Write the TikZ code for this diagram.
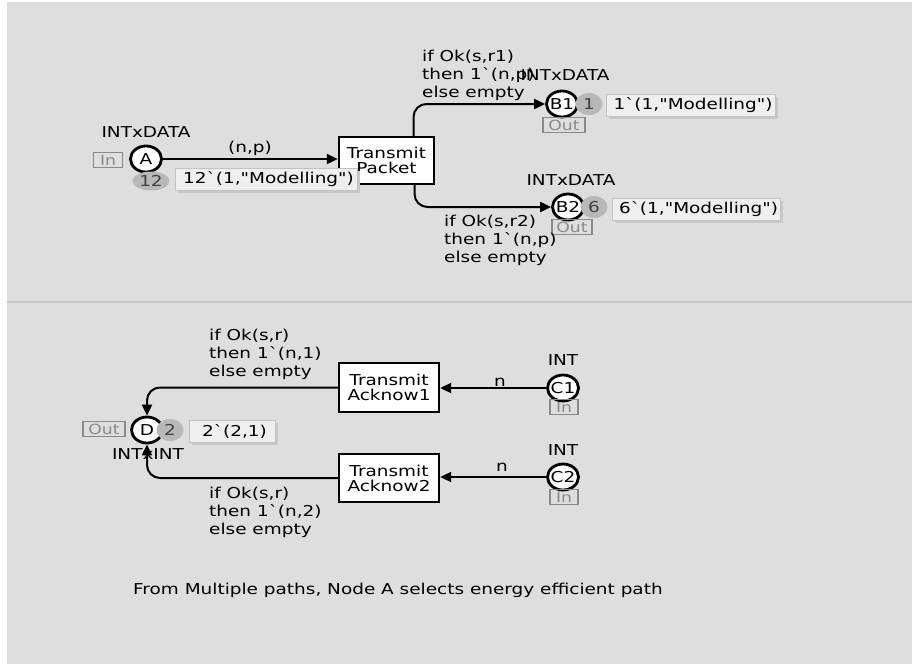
\documentclass[tikz,border=0pt]{standalone}
\usepackage{fontspec}
\newfontfamily\dv[FakeStretch=1.23]{DejaVu Sans}
\usetikzlibrary{arrows.meta,shapes.geometric}
\definecolor{bg}{HTML}{DEDEDE}
\definecolor{tokgray}{HTML}{B8B8B8}
\definecolor{markfill}{HTML}{EFEFEF}
\definecolor{markborder}{HTML}{C2C2C2}
\definecolor{markshadow}{HTML}{C8C8C8}
\definecolor{portgray}{HTML}{8A8A8A}
\definecolor{divider}{HTML}{C8C8C8}
\begin{document}
\begin{tikzpicture}[x=1pt,y=-1pt,
  font=\dv\fontsize{15}{18}\selectfont,
  place/.style={ellipse, draw=black, line width=2.8pt, fill=white, minimum width=31pt, minimum height=26pt, inner sep=-4pt},
  trans/.style={rectangle, draw=black, line width=2.4pt, fill=white, align=center, inner sep=0pt},
  tok/.style={ellipse, fill=tokgray, text=black!75, minimum width=27pt, minimum height=22pt, inner sep=-4pt},
  marking/.style={draw=markborder, line width=1pt, fill=markfill, anchor=west, inner sep=0pt, minimum height=22pt,
    append after command={}},
  port/.style={draw=portgray, line width=1.5pt, text=portgray, inner sep=1pt, minimum height=15pt, font=\dv\fontsize{14}{15}\selectfont},
  arc/.style={line width=2pt, -{Triangle[length=11pt,width=10pt]}},
  lbl/.style={align=left, anchor=north west, inner sep=0pt},
  typ/.style={anchor=base, inner sep=0pt}]
\fill[white] (0,0) rectangle (912,665);
\fill[bg] (7,2) rectangle (912,664);
\useasboundingbox (0,0) rectangle (912,665);
\draw[divider, line width=2pt] (7,302) -- (912,302);

% ---------- upper part ----------
\node[place] (pA) at (146,159) {A};
\node[typ] (tyA) at (146,137) {INTxDATA};
\node[port, minimum width=29pt] (poA) at (108,160) {In};
\node[trans, minimum width=95pt, minimum height=47pt] (tTP) at (386.5,160.5) {Transmit\\[-3pt]Packet};
\draw[arc] (pA.east) -- (pA.east -| tTP.west);
\node[typ] (iAP) at (250,152) {(n,p)};
\node[tok, minimum width=37pt, minimum height=19pt] (kA) at (151,181) {12};
\fill[markshadow] (178,171) rectangle (360,193);
\node[marking, minimum width=182pt] (mA) at (175,179) {\hspace{4pt}12`(1,"Modelling")\hfill};

\node[place] (pB1) at (562,104) {B1};
\node[typ] (tyB1) at (565,80) {INTxDATA};
\node[port, minimum width=42pt] (poB1) at (564,125) {Out};
\draw[arc, rounded corners=13pt] ([xshift=27pt]tTP.north) |- (pB1);
\node[lbl] (iB1) at (422,50) {if Ok(s,r1)\\then 1`(n,p)\\else empty};
\node[tok] (kB1) at (589,104) {1};
\fill[markshadow] (609,97) rectangle (778,119);
\node[marking, minimum width=169pt] (mB1) at (606,105) {\hspace{4pt}1`(1,"Modelling")\hfill};

\node[place] (pB2) at (568,207) {B2};
\node[typ] (tyB2) at (571,185) {INTxDATA};
\node[port, minimum width=40pt] (poB2) at (572,227) {Out};
\draw[arc, rounded corners=13pt] ([xshift=28pt]tTP.south) |- (pB2);
\node[lbl] (iB2) at (444,215) {if Ok(s,r2)\\then 1`(n,p)\\else empty};
\node[tok] (kB2) at (594,207) {6};
\fill[markshadow] (615,201) rectangle (783,223);
\node[marking, minimum width=168pt] (mB2) at (612,209) {\hspace{4pt}6`(1,"Modelling")\hfill};

% ---------- lower part ----------
\node[place] (pD) at (147,430) {D};
\node[port, minimum width=42pt] (poD) at (104,429) {Out};
\node[trans, minimum width=100pt, minimum height=49pt] (tTA1) at (389,387.5) {Transmit\\[-3pt]Acknow1};
\node[trans, minimum width=100pt, minimum height=48pt] (tTA2) at (389,478) {Transmit\\[-3pt]Acknow2};
\node[place] (pC1) at (563,388) {C1};
\node[typ] (tyC1) at (563,365) {INT};
\node[port, minimum width=28pt] (poC1) at (564,407) {In};
\node[place] (pC2) at (563,477) {C2};
\node[typ] (tyC2) at (563,455) {INT};
\node[port, minimum width=28pt] (poC2) at (564,497) {In};

\draw[arc] (pC1) -- (pC1 -| tTA1.east);
\node[typ] (iC1) at (500,386) {n};
\draw[arc] (pC2) -- (pC2 -| tTA2.east);
\node[typ] (iC2) at (502,471) {n};

\draw[arc, rounded corners=13pt] (tTA1.west) -| (pD);
\node[lbl] (iD1) at (209,329) {if Ok(s,r)\\then 1`(n,1)\\else empty};
\draw[arc, rounded corners=13pt] (tTA2.west) -| (pD);
\node[lbl] (iD2) at (209,487) {if Ok(s,r)\\then 1`(n,2)\\else empty};
\node[typ] (tyD) at (148,459) {INTxINT};
\node[tok] (kD) at (170,430) {2};
\fill[markshadow] (192,423) rectangle (278,445);
\node[marking, minimum width=86pt] (mD) at (189,431) {\hspace{4pt}2`(2,1)\hfill};

\node[anchor=base west, inner sep=0pt] (note) at (133,594) {From Multiple paths, Node A selects energy efficient path};
\end{tikzpicture}
\end{document}
